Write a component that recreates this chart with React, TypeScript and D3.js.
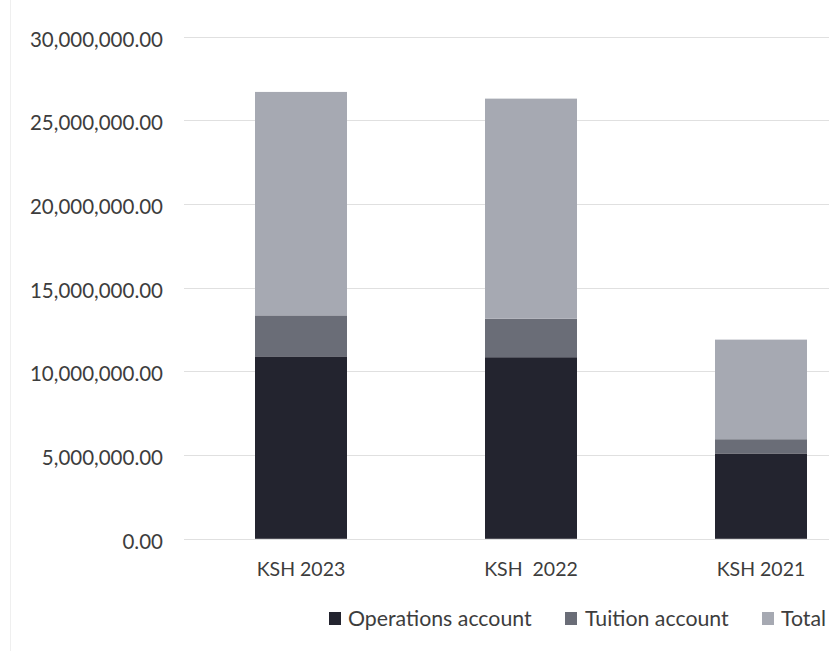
import React from "react";
import * as d3 from "d3";

// Account balances by year (KSH)
const years = ["KSH 2023", "KSH  2022", "KSH 2021"];
const operations = [10900000, 10850000, 5100000];
const tuition = [2450000, 2300000, 850000];
const totals = [13350000, 13150000, 5950000];

const seriesNames = ["Operations account", "Tuition account", "Total"];
const seriesColors = ["#23242f", "#6a6d77", "#a6a9b2"];
const yTicks = [0, 5000000, 10000000, 15000000, 20000000, 25000000, 30000000];

const W = 829;
const H = 651;
const FONT = "Lato, 'Open Sans', sans-serif";
const TEXT = "#3d3d3d";

export default function App() {
  const rows = years.map((y, i) => ({
    year: y,
    "Operations account": operations[i],
    "Tuition account": tuition[i],
    Total: totals[i],
  }));

  const stacked = d3.stack<any>().keys(seriesNames)(rows);

  const x = d3
    .scaleBand<string>()
    .domain(years)
    .range([186, 876])
    .paddingInner(0.6)
    .paddingOuter(0.3);

  const y = d3.scaleLinear().domain([0, 30000000]).range([538.8, 36.7]);
  const fmt = d3.format(",.2f");

  const legendItems = [
    { name: seriesNames[0], box: 329, text: 348 },
    { name: seriesNames[1], box: 565, text: 585 },
    { name: seriesNames[2], box: 762, text: 781 },
  ];

  return (
    <svg
      width={W}
      height={H}
      style={{ position: "fixed", left: 0, top: 0, background: "#fff" }}
      fontFamily={FONT}
    >
      <rect x={0} y={0} width={W} height={H} fill="#fff" />
      <line x1={10.5} x2={10.5} y1={0} y2={H} stroke="#efefef" strokeWidth={1} />

      {/* gridlines */}
      {yTicks.map((t) => (
        <line
          key={"g" + t}
          x1={184}
          x2={W}
          y1={Math.round(y(t)) + 0.5}
          y2={Math.round(y(t)) + 0.5}
          stroke="#e0e0e0"
          strokeWidth={1}
        />
      ))}

      {/* y tick labels */}
      {yTicks.map((t) => (
        <text
          key={"t" + t}
          x={163}
          y={y(t) + 10}
          textAnchor="end"
          fontSize={20.5}
          fill={TEXT}
        >
          {fmt(t)}
        </text>
      ))}

      {/* stacked bars */}
      {stacked.map((layer, li) => (
        <g key={layer.key} fill={seriesColors[li]}>
          {layer.map((d, i) => (
            <rect
              key={i}
              x={x(years[i])}
              width={x.bandwidth()}
              y={y(d[1])}
              height={y(d[0]) - y(d[1])}
            />
          ))}
        </g>
      ))}

      {/* category labels */}
      {years.map((yr) => (
        <text
          key={yr}
          x={(x(yr) as number) + x.bandwidth() / 2}
          y={576}
          textAnchor="middle"
          fontSize={19.5}
          fill={TEXT}
          style={{ whiteSpace: "pre" }}
        >
          {yr}
        </text>
      ))}

      {/* legend */}
      {legendItems.map((it, i) => (
        <g key={it.name}>
          <rect x={it.box} y={612} width={12} height={13} fill={seriesColors[i]} />
          <text x={it.text} y={626} fontSize={21.3} fill={TEXT}>
            {it.name}
          </text>
        </g>
      ))}
    </svg>
  );
}
